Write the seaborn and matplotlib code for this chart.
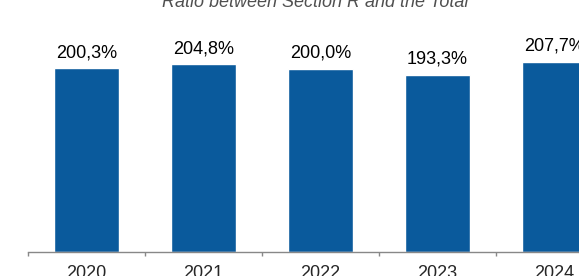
import pandas as pd
import matplotlib
matplotlib.use("Agg")
import matplotlib.pyplot as plt
import seaborn as sns

# chart data
years = ["2020", "2021", "2022", "2023", "2024"]
ratios = [200.3, 204.8, 200.0, 193.3, 207.7]
labels = ["200,3%", "204,8%", "200,0%", "193,3%", "207,7%"]

df = pd.DataFrame({"Year": years, "Ratio": ratios})

sns.set_style("white")
plt.rcParams["font.family"] = ["Liberation Sans", "DejaVu Sans"]

W, H = 579, 276
fig = plt.figure(figsize=(W / 100, H / 100), dpi=100)
# the axes run past the right edge, like the cropped original
ax = fig.add_axes([28 / W, 24 / H, 585 / W, 232 / H])

sns.barplot(data=df, x="Year", y="Ratio", color="#0A5A9C", width=0.55,
            saturation=1, ax=ax)

ax.set_xlim(-0.5, 4.5)
ax.set_ylim(0, 253)

# value labels above the bars
for i, v in enumerate(ratios):
    ax.text(i, v + 12, labels[i], ha="center", va="baseline", fontsize=13, color="black")

# axis styling
for s in ["top", "right", "left"]:
    ax.spines[s].set_visible(False)
ax.spines["bottom"].set_color("#888888")
ax.spines["bottom"].set_linewidth(1)
ax.set_yticks([])
ax.set_xlabel("")
ax.set_ylabel("")
ax.set_xticks(range(len(years)))
ax.set_xticklabels(years, fontsize=13)
ax.tick_params(axis="x", which="major", length=0, pad=9)
ax.set_xticks([i - 0.5 for i in range(len(years) + 1)], minor=True)
ax.tick_params(axis="x", which="minor", bottom=True, length=3, width=1,
               color="#888888", direction="out")

fig.text(315 / W, 1 - 7 / H, "Ratio between Section R and the Total", ha="center",
         va="baseline", fontsize=13, style="italic", color="#505050")

fig.savefig("out.png", dpi=100)
